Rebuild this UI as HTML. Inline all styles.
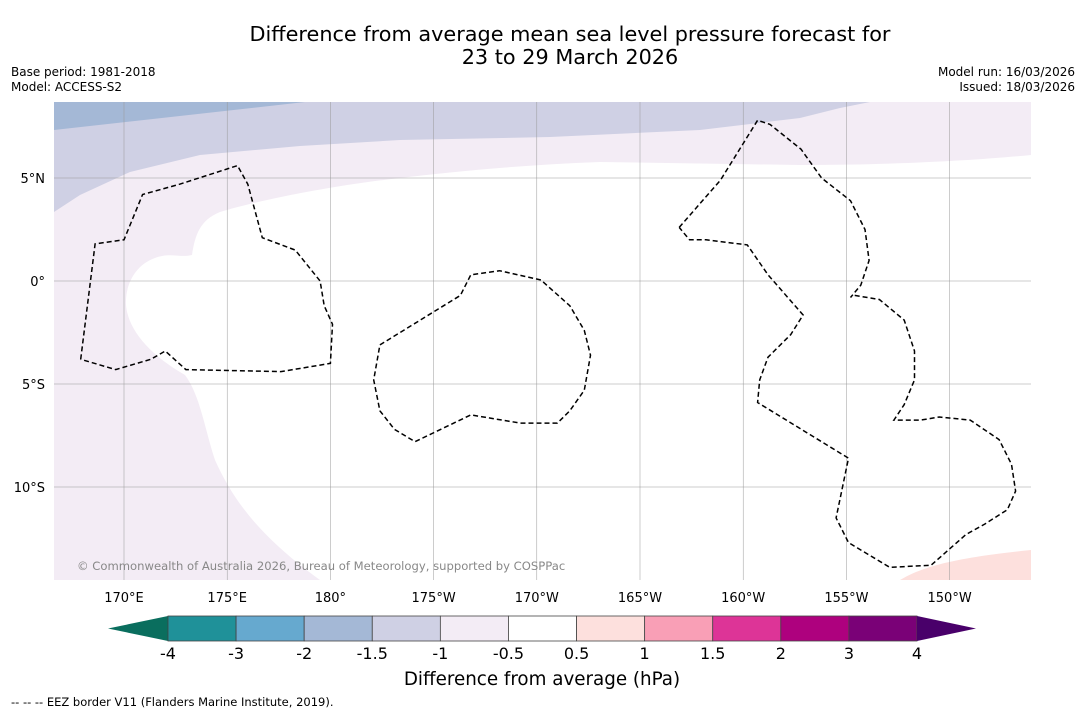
<!DOCTYPE html>
<html><head><meta charset="utf-8"><style>
body{margin:0;background:#fff;width:1085px;height:713px;overflow:hidden;font-family:"Liberation Sans","DejaVu Sans",sans-serif}
svg text{font-family:"DejaVu Sans","Liberation Sans",sans-serif}
</style></head><body>
<svg id="chart" width="1085" height="713" xmlns="http://www.w3.org/2000/svg">
<text x="570" y="41" font-size="20.8" text-anchor="middle">Difference from average mean sea level pressure forecast for</text>
<text x="570" y="64" font-size="20.8" text-anchor="middle">23 to 29 March 2026</text>
<text x="11" y="76" font-size="12">Base period: 1981-2018</text>
<text x="11" y="91" font-size="12">Model: ACCESS-S2</text>
<text x="1075" y="76" font-size="12" text-anchor="end">Model run: 16/03/2026</text>
<text x="1075" y="91" font-size="12" text-anchor="end">Issued: 18/03/2026</text>
<g id="map">
<clipPath id="mc"><rect x="54" y="102" width="977" height="478"/></clipPath>
<g clip-path="url(#mc)">
<rect x="54" y="102" width="977" height="478" fill="#f3ecf5"/>
<path fill="#cfd0e4" d="M54,102 L870,102 L840,108 L800,118 L700,130 L550,137 L400,140 L300,146 L200,155 L130,172 L80,195 L54,212 Z"/>
<path fill="#a4b8d6" d="M54,102 L305,102 L54,130 Z"/>
<path fill="#ffffff" d="M1031,155 C980,160 900,165 800,165 L600,162 C520,165 450,172 400,178 C330,186 260,200 220,212 C200,220 195,235 192,255 C180,258 170,252 155,258 C135,265 125,285 126,305 C128,330 150,355 185,375 C200,395 205,430 215,460 C235,505 265,540 320,580 L1031,580 Z"/>
<path fill="#fde0dd" d="M900,580 C920,568 950,558 1031,550 L1031,580 Z"/>
<g id="grid"></g>
<g id="eez"></g>
</g>
<text x="77" y="570" font-size="11.6" fill="#888">© Commonwealth of Australia 2026, Bureau of Meteorology, supported by COSPPac</text>
<g id="ticks"></g>
</g>
<g id="cbar"></g>
<text x="542" y="685" font-size="18.3" text-anchor="middle">Difference from average (hPa)</text>
<text x="11" y="706" font-size="11.5">--  --  -- EEZ border V11 (Flanders Marine Institute, 2019).</text>
</svg>
<script>
const lonTicks=[170,175,180,185,190,195,200,205,210];
const lonLabels=["170°E","175°E","180°","175°W","170°W","165°W","160°W","155°W","150°W"];
const latTicks=[5,0,-5,-10];
const latLabels=["5°N","0°","5°S","10°S"];
const levels=[-4,-3,-2,-1.5,-1,-0.5,0.5,1,1.5,2,3,4];
const levelLabels=["-4","-3","-2","-1.5","-1","-0.5","0.5","1","1.5","2","3","4"];
const binColors=["#1f9199","#66a9cf","#a4b8d6","#cfd0e4","#f3ecf5","#ffffff","#fde0dd","#f99fb6","#dd3497","#ae017e","#7a0177"];
const eez1=[[167.9,-3.8],[168.6,1.8],[170.0,2.0],[170.9,4.2],[172.7,4.7],[175.5,5.6],[176.0,4.7],[176.7,2.1],[178.3,1.5],[179.5,0.0],[179.7,-1.2],[180.1,-2.1],[180.0,-4.0],[177.6,-4.4],[173.0,-4.3],[172.0,-3.4],[171.3,-3.8],[169.6,-4.3],[167.9,-3.8]];
const eez2=[[182.4,-3.1],[186.3,-0.7],[186.8,0.3],[188.2,0.5],[190.2,0.05],[191.6,-1.2],[192.3,-2.4],[192.6,-3.6],[192.3,-5.3],[191.6,-6.3],[191.0,-6.9],[189.2,-6.9],[186.8,-6.5],[184.1,-7.8],[183.1,-7.2],[182.4,-6.3],[182.1,-4.8],[182.4,-3.1]];
const eez3=[[196.9,2.6],[198.9,4.9],[200.7,7.8],[201.3,7.6],[202.8,6.4],[203.8,5.0],[205.2,3.9],[205.9,2.5],[206.1,1.0],[205.7,-0.2],[205.2,-0.8]];
const eez4=[[205.4,-0.7],[206.6,-0.9],[207.8,-1.9],[208.3,-3.4],[208.3,-4.8],[207.8,-6.0],[207.3,-6.75],[208.6,-6.75],[209.5,-6.6],[211.0,-6.75],[212.4,-7.7],[213.0,-8.9],[213.2,-10.2],[212.8,-11.1],[211.7,-11.8],[210.8,-12.3],[209.1,-13.8],[207.1,-13.9],[205.1,-12.7],[204.5,-11.5],[205.1,-8.6],[200.7,-5.9],[200.8,-4.8],[201.2,-3.7],[202.3,-2.6],[202.9,-1.65],[201.2,0.3],[200.2,1.75],[198.2,2.0],[197.4,2.0],[196.9,2.6]];
const x0=54,x1=1031,y0=102,y1=580;
const xs=lon=>124+(lon-170)*20.64;
const ys=lat=>281-lat*20.6;
const NS="http://www.w3.org/2000/svg";
function mk(tag,attrs,parent){const e=document.createElementNS(NS,tag);for(const k in attrs)e.setAttribute(k,attrs[k]);parent.appendChild(e);return e;}
const grid=document.getElementById('grid'),ticks=document.getElementById('ticks');
lonTicks.forEach((l,i)=>{const x=xs(l);
 const g=mk('line',{x1:x,x2:x,y1:y0,y2:y1,stroke:'#999','stroke-width':0.5},grid);
 
 
 const t=mk('text',{x:x,y:602,'font-size':13,'text-anchor':'middle'},ticks);t.textContent=lonLabels[i];
 
 });
latTicks.forEach((l,i)=>{const y=ys(l);
 const g=mk('line',{x1:x0,x2:x1,y1:y,y2:y,stroke:'#999','stroke-width':0.5},grid);
 
 
 const t=mk('text',{x:45,y:y+5,'font-size':13,'text-anchor':'end'},ticks);t.textContent=latLabels[i];
 
 });
const eez=document.getElementById('eez');
[eez1,eez2,eez3,eez4].forEach(p=>{
 const d=p.map((q,i)=>(i?'L':'M')+xs(q[0]).toFixed(1)+','+ys(q[1]).toFixed(1)).join(' ');
 const e=mk('path',{d:d,fill:'none',stroke:'#000','stroke-width':1.5,'stroke-dasharray':'5,3'},eez);
 
 });
const cb=document.getElementById('cbar');
const cbL=168,cbR=917,cbT=616,cbB=641,n=levels.length-1,w=(cbR-cbL)/n;
const cx=i=>cbL+i*w;
const la=mk('polygon',{points:`108,628.5 ${cbL},${cbT} ${cbL},${cbB}`,fill:'#0a6e5e'},cb);


binColors.forEach((c,i)=>{const r=mk('rect',{x:cx(i),y:cbT,width:w,height:cbB-cbT,fill:c,stroke:'#444','stroke-width':0.8},cb);
 
 });
const ra=mk('polygon',{points:`${cbR},${cbT} 976,628.5 ${cbR},${cbB}`,fill:'#49006a'},cb);


levelLabels.forEach((s,i)=>{const t=mk('text',{x:cx(i),y:659,'font-size':16,'text-anchor':'middle'},cb);t.textContent=s;
 
 });
</script>
</body></html>
